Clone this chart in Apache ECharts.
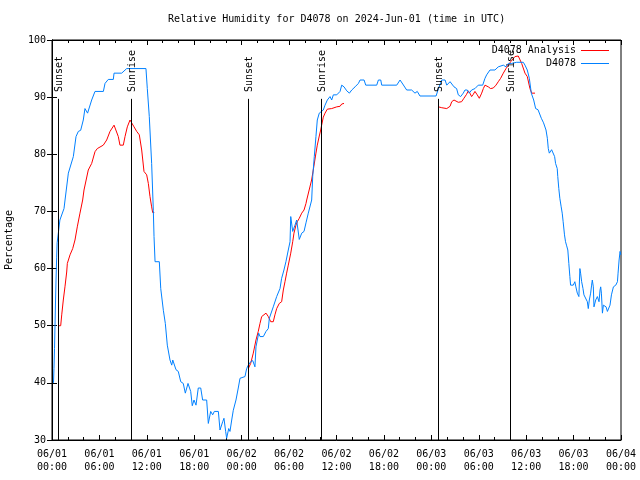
<!DOCTYPE html>
<html>
<head>
<meta charset="utf-8">
<script src="https://cdn.jsdelivr.net/npm/echarts@6/dist/echarts.min.js"></script>
<style>html,body{margin:0;padding:0;background:#fff}#c{width:640px;height:480px}</style>
</head>
<body>
<div id="c"></div>
<script>
// Hours since 2024-06-01 00:00 UTC
const obsHours = [0.19,0.25,0.32,0.38,0.45,0.51,0.59,0.65,0.80,1.0,1.52,1.65,2.07,2.7,3.04,3.33,3.63,3.96,4.17,4.5,5.02,5.44,6.5,6.71,7.12,7.76,7.85,8.82,9.45,11.89,12.06,12.31,12.61,12.82,12.91,13.04,13.58,13.76,14.09,14.34,14.59,14.93,15.15,15.28,15.69,15.98,16.29,16.61,16.87,17.21,17.55,17.75,17.97,18.22,18.51,18.82,19.06,19.57,19.78,20.08,20.33,20.54,21.05,21.26,21.6,21.76,21.98,22.1,22.36,22.52,22.74,22.94,23.28,23.57,23.79,24.42,24.63,24.84,25.14,25.4,25.68,25.81,25.98,26.15,26.32,26.74,27.08,27.37,27.5,28.0,28.43,28.85,29.06,29.35,29.6,29.9,30.12,30.21,30.46,30.75,30.96,31.29,31.6,31.89,32.14,32.43,32.86,32.99,33.19,33.4,33.57,33.82,34.33,34.55,34.84,35.18,35.39,35.6,36.03,36.45,36.66,36.95,37.3,37.63,37.93,38.35,38.77,38.98,39.49,39.7,41.09,41.3,41.6,41.72,43.62,44.04,44.38,44.88,45.51,45.93,46.22,46.56,48.6,48.9,49.32,49.74,49.95,50.37,50.58,50.87,51.2,51.41,51.71,52.04,52.26,52.55,52.8,53.1,53.52,53.94,54.5,54.79,55.0,55.42,56.05,56.47,56.69,57.11,57.45,57.74,58.17,58.8,59.64,59.85,60.14,60.4,60.65,60.95,61.2,61.5,61.71,61.92,62.2,62.51,62.68,62.8,62.93,63.22,63.45,63.6,63.72,63.93,64.0,64.13,64.26,64.43,64.56,64.68,64.85,64.98,65.1,65.27,65.4,65.53,65.62,65.96,66.16,66.29,66.47,66.67,66.8,66.89,67.02,67.19,67.31,67.53,67.74,67.86,67.99,68.16,68.28,68.37,68.5,68.58,68.8,69.01,69.22,69.35,69.43,69.52,69.65,69.77,69.94,70.11,70.28,70.41,70.61,70.79,71.04,71.21,71.34,71.55,71.63,71.76,71.88,71.97];
const obsValues = [40.0,42.5,46.0,50.0,54.5,58.0,62.0,64.5,66.2,68.5,70.5,72.0,76.7,79.6,83.1,84.0,84.2,86.0,88.0,87.2,89.5,91.0,91.0,92.4,93.1,93.1,94.2,94.2,95.0,95.0,91.5,86.6,78.4,70.2,65.6,61.2,61.2,56.5,52.7,50.4,46.6,44.0,43.1,44.0,42.3,42.0,40.2,39.9,38.2,39.9,38.5,36.0,37.0,36.1,39.1,39.1,37.0,37.0,32.9,35.0,34.4,35.0,35.0,31.75,33.2,33.8,31.45,30.3,32.0,31.5,33.5,35.2,37.0,39.1,40.8,41.1,42.5,43.1,43.7,43.9,42.8,46.3,47.5,48.7,48.1,48.1,49.0,49.5,51.3,53.3,55.1,56.5,58.3,59.75,61.2,63.25,64.7,69.1,66.5,67.6,68.5,65.1,66.2,66.5,68.0,69.7,72.0,76.1,79.6,83.1,86.0,87.2,87.75,88.6,89.5,90.1,89.5,90.4,90.4,91.0,92.1,91.8,91.1,90.7,91.25,91.8,92.4,93.0,93.0,92.1,92.1,93.0,93.0,92.1,92.1,93.0,92.3,91.25,91.25,90.7,91.0,90.2,90.2,91.5,93.0,93.0,92.1,92.7,93.0,91.8,91.5,90.4,90.1,90.7,91.25,91.25,90.7,91.25,91.5,92.1,92.1,93.3,93.9,94.75,94.75,95.3,95.6,95.6,95.3,95.9,95.9,96.1,96.1,95.6,94.75,93.3,90.7,89.5,88.0,87.8,87.5,86.3,85.5,84.25,82.8,81.0,80.2,80.8,80.5,79.6,78.4,77.5,76.1,74.0,72.3,70.8,69.7,68.2,65.9,64.7,64.1,63.25,60.9,58.6,57.1,57.1,57.7,56.8,55.7,55.1,60.0,59.2,57.7,56.5,55.4,55.7,54.2,53.0,54.5,55.7,57.1,58.0,56.8,53.3,54.5,55.1,54.2,56.25,56.8,55.7,52.2,53.6,53.9,53.3,52.5,52.2,53.6,55.4,56.8,56.5,57.1,57.7,59.2,61.5,63.0,62.4];

// Analysis series (null = gap between nightly runs)
const anaHours = [0.8,1.1,1.23,1.43,1.64,1.86,1.94,2.28,2.62,2.91,3.2,3.54,3.88,4.05,4.59,5.02,5.44,5.73,6.49,6.92,7.34,7.85,8.1,8.39,8.6,9.02,9.24,9.53,9.87,10.08,10.38,10.72,11.05,11.35,11.64,11.98,12.19,12.4,12.61,12.74,12.94,
  18.0,
  24.84,25.14,25.47,25.81,26.1,26.32,26.53,26.74,27.08,27.37,27.68,28.0,28.21,28.43,28.76,29.06,29.27,29.48,29.69,29.9,30.21,30.46,30.62,30.87,31.04,31.29,31.6,31.89,32.14,32.23,32.85,33.06,33.4,33.57,33.82,34.0,34.12,34.33,34.55,34.84,35.39,36.03,36.45,36.66,36.95,
  42.0,
  48.9,49.32,49.95,50.37,50.58,50.87,51.12,51.41,51.83,52.12,52.46,52.67,52.88,53.1,53.31,53.52,53.81,54.07,54.37,54.58,54.79,55.21,55.5,55.84,56.18,56.47,56.77,57.11,57.45,57.74,58.04,58.29,58.58,59.0,59.43,59.85,60.14,60.48,60.7,61.12];
const anaValues = [50.0,50.0,51.9,54.5,56.8,59.4,60.9,62.4,63.5,65.0,67.3,69.7,72.0,73.75,77.25,78.4,80.45,81.0,81.6,82.5,84.0,85.1,84.9,83.1,81.6,81.6,83.1,84.8,86.0,85.7,84.8,84.0,83.4,80.75,77.0,76.4,74.9,72.6,70.8,69.8,69.8,
  null,
  42.5,43.4,45.2,47.5,49.0,50.4,51.6,51.9,52.2,51.6,50.7,50.7,51.9,53.0,53.9,54.2,56.25,57.7,59.2,60.6,62.7,64.7,66.2,67.6,68.2,68.8,69.7,70.25,71.4,72.0,75.5,77.25,80.2,81.6,83.2,84.25,85.1,86.5,87.2,87.9,88.0,88.3,88.4,88.8,88.9,
  null,
  88.3,88.15,88.0,88.4,89.2,89.5,89.2,89.1,89.2,89.8,90.5,91.1,90.7,90.1,90.5,91.0,90.4,89.8,90.7,91.5,92.1,91.8,91.5,91.6,92.1,92.7,93.3,94.2,95.0,95.6,96.2,96.5,97.1,97.2,95.9,94.2,93.6,91.5,90.7,90.7];

const sunEventHours = [0.8, 10.0, 24.84, 34.1, 48.9, 58.0];
const sunEventNames = ['Sunset', 'Sunrise', 'Sunset', 'Sunrise', 'Sunset', 'Sunrise'];

const xTickHours = [0, 6, 12, 18, 24, 30, 36, 42, 48, 54, 60, 66, 72];
const xTickDates = ['06/01','06/01','06/01','06/01','06/02','06/02','06/02','06/02','06/03','06/03','06/03','06/03','06/04'];
const xTickTimes = ['00:00','06:00','12:00','18:00','00:00','06:00','12:00','18:00','00:00','06:00','12:00','18:00','00:00'];

const FONT = '"DejaVu Sans Mono", "Liberation Mono", monospace';
const chart = echarts.init(document.getElementById('c'), null, {renderer: 'canvas'});

function xLabel(v) {
  const i = xTickHours.indexOf(Math.round(v));
  return i >= 0 ? xTickDates[i] + '\n' + xTickTimes[i] : '';
}
const xCommon = {
  type: 'value', min: 0, max: 72, interval: 6,
  axisLine: {show: true, lineStyle: {color: '#000', width: 1}},
  axisTick: {show: true, inside: true, length: 5, lineStyle: {color: '#000'}},
  minorTick: {show: true, splitNumber: 3, length: 3, lineStyle: {color: '#000'}},
  splitLine: {show: false},
  minorSplitLine: {show: false}
};
const yCommon = {
  type: 'value', min: 30, max: 100, interval: 10,
  axisLine: {show: true, lineStyle: {color: '#000', width: 1}},
  axisTick: {show: true, inside: true, length: 5, lineStyle: {color: '#000'}},
  splitLine: {show: false}
};

const lineTop = 89.7;
const labelBase = 90.9;

chart.setOption({
  animation: false,
  backgroundColor: '#fff',
  title: {
    text: 'Relative Humidity for D4078 on 2024-Jun-01 (time in UTC)',
    left: 168, top: 14, padding: 0,
    textStyle: {fontFamily: FONT, fontSize: 10, fontWeight: 'normal', color: '#000'}
  },
  grid: {left: 52, right: 19, top: 40, bottom: 40, show: true, borderColor: '#000', borderWidth: 1,
    backgroundColor: 'transparent', containLabel: false, outerBoundsMode: 'none'},
  legend: {
    orient: 'vertical', right: 31, top: 45, padding: 0, align: 'right',
    icon: 'rect', itemWidth: 28, itemHeight: 1, itemGap: 2,
    textStyle: {fontFamily: FONT, fontSize: 10, color: '#000', lineHeight: 11},
    data: ['D4078 Analysis', 'D4078']
  },
  xAxis: [
    Object.assign({}, xCommon, {
      position: 'bottom',
      axisLabel: {show: true, margin: 8, fontFamily: FONT, fontSize: 10, color: '#000', lineHeight: 13, formatter: xLabel}
    }),
    Object.assign({}, xCommon, {position: 'top', axisLabel: {show: false}})
  ],
  yAxis: [
    Object.assign({}, yCommon, {
      position: 'left',
      name: 'Percentage', nameLocation: 'middle', nameGap: 38, nameRotate: 90,
      nameTextStyle: {fontFamily: FONT, fontSize: 10, color: '#000'},
      axisLabel: {show: true, margin: 6, fontFamily: FONT, fontSize: 10, color: '#000'}
    }),
    Object.assign({}, yCommon, {position: 'right', axisLabel: {show: false}})
  ],
  series: [
    {
      name: 'D4078 Analysis', type: 'line', xAxisIndex: 0, yAxisIndex: 0,
      symbol: 'none', connectNulls: false,
      lineStyle: {color: '#ff0000', width: 1}, itemStyle: {color: '#ff0000'},
      data: anaHours.map((h, i) => [h, anaValues[i]]),
      z: 3
    },
    {
      name: 'D4078', type: 'line', xAxisIndex: 0, yAxisIndex: 0,
      symbol: 'none',
      lineStyle: {color: '#0080ff', width: 1}, itemStyle: {color: '#0080ff'},
      data: obsHours.map((h, i) => [h, obsValues[i]]),
      z: 4
    },
    {
      name: 'sun', type: 'custom', xAxisIndex: 0, yAxisIndex: 0,
      data: sunEventHours.map((h, i) => [h, i]),
      z: 5, silent: true,
      renderItem: function (params, api) {
        const h = api.value(0);
        const idx = api.value(1);
        const top = api.coord([h, lineTop]);
        const bot = api.coord([h, 30]);
        const lab = api.coord([h, labelBase]);
        const x = Math.round(top[0]) + 0.5;
        return {
          type: 'group',
          children: [
            {type: 'line', shape: {x1: x, y1: top[1], x2: x, y2: bot[1]}, style: {stroke: '#000', lineWidth: 1}},
            {type: 'text', x: x + 1, y: lab[1], rotation: Math.PI / 2,
              style: {text: sunEventNames[idx], fontFamily: FONT, fontSize: 10, fill: '#000', align: 'left', verticalAlign: 'middle'}}
          ]
        };
      }
    }
  ]
});
</script>
</body>
</html>
